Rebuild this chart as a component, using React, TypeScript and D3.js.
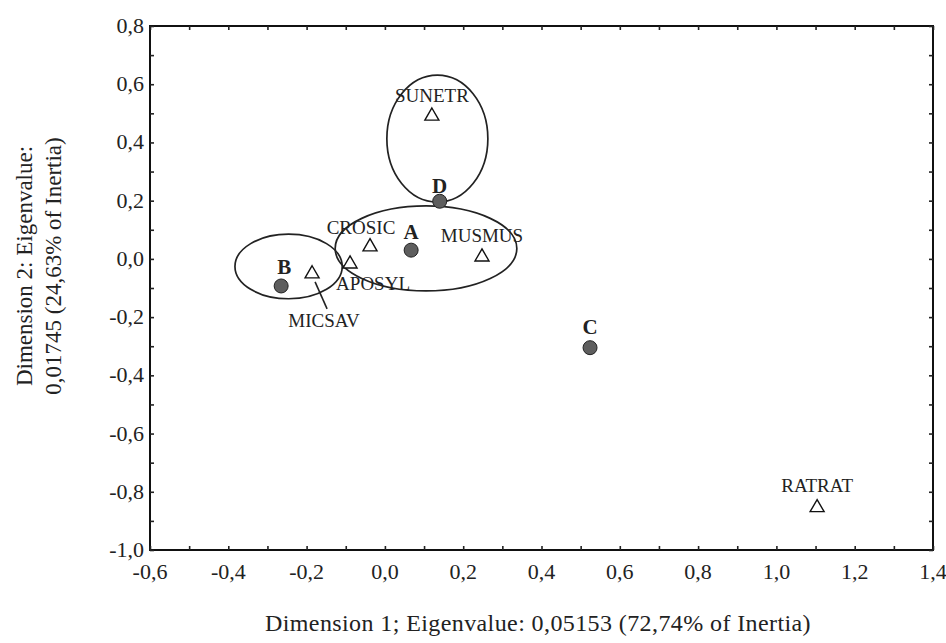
import { useRef, useEffect } from "react";
import * as d3 from "d3";

const W = 946;
const H = 643;

// row points (groups), filled circles
const groupNames = ["A", "B", "C", "D"];
const groupX = [0.067, -0.265, 0.524, 0.14];
const groupY = [0.03, -0.093, -0.305, 0.198];

// column points (species), open triangles
const speciesNames = ["SUNETR", "CROSIC", "APOSYL", "MUSMUS", "MICSAV", "RATRAT"];
const speciesX = [0.12, -0.038, -0.089, 0.248, -0.186, 1.104];
const speciesY = [0.494, 0.045, -0.014, 0.01, -0.048, -0.851];

// hand-drawn grouping ellipses: centre and radii in data units
const ellipseCx = [0.134, 0.105, -0.246];
const ellipseCy = [0.413, 0.036, -0.026];
const ellipseRx = [0.129, 0.232, 0.137];
const ellipseRy = [0.218, 0.146, 0.111];

const xTicks = [-0.6, -0.4, -0.2, 0.0, 0.2, 0.4, 0.6, 0.8, 1.0, 1.2, 1.4];
const yTicks = [0.8, 0.6, 0.4, 0.2, 0.0, -0.2, -0.4, -0.6, -0.8, -1.0];

const font = "'Liberation Serif', 'DejaVu Serif', serif";
const fmt = (v: number) => d3.format(".1f")(v).replace(".", ",").replace("−", "-");

function App() {
  const svgRef = useRef<SVGSVGElement>(null);

  useEffect(() => {
    const svg = d3.select(svgRef.current);
    svg.selectAll("*").remove();

    const x = d3.scaleLinear().domain([-0.6, 1.4]).range([150, 933]);
    const y = d3.scaleLinear().domain([-1.0, 0.8]).range([550, 26]);

    const g = svg.append("g").attr("font-family", font);

    // frame
    g.append("rect")
      .attr("x", x(-0.6))
      .attr("y", y(0.8))
      .attr("width", x(1.4) - x(-0.6))
      .attr("height", y(-1.0) - y(0.8))
      .attr("fill", "none")
      .attr("stroke", "#111")
      .attr("stroke-width", 2);

    // inward ticks on all four sides, every 0.1 (major ones a bit longer)
    const minorX = d3.range(-6, 15).map((i) => i / 10);
    const minorY = d3.range(-10, 9).map((i) => i / 10);
    const sides = [
      { ax: d3.axisBottom(x).tickValues(minorX), t: `translate(0,${y(-1.0)})` },
      { ax: d3.axisTop(x).tickValues(minorX), t: `translate(0,${y(0.8)})` },
      { ax: d3.axisLeft(y).tickValues(minorY), t: `translate(${x(-0.6)},0)` },
      { ax: d3.axisRight(y).tickValues(minorY), t: `translate(${x(1.4)},0)` },
    ];
    sides.forEach(({ ax, t }) => {
      const a = g.append("g").attr("transform", t).call(ax.tickSize(-4).tickFormat(() => ""));
      a.select(".domain").remove();
      a.selectAll("line").attr("stroke", "#222").attr("stroke-width", 1.6);
    });

    // tick labels
    g.append("g")
      .selectAll("text")
      .data(xTicks)
      .join("text")
      .attr("x", (d) => x(d))
      .attr("y", 579)
      .attr("text-anchor", "middle")
      .attr("font-size", 22)
      .attr("fill", "#222")
      .text((d) => fmt(d));

    g.append("g")
      .selectAll("text")
      .data(yTicks)
      .join("text")
      .attr("x", 144)
      .attr("y", (d) => y(d) + 7)
      .attr("text-anchor", "end")
      .attr("font-size", 22)
      .attr("fill", "#222")
      .text((d) => fmt(d));

    // axis titles
    g.append("text")
      .attr("x", 538)
      .attr("y", 631)
      .attr("text-anchor", "middle")
      .attr("font-size", 24)
      .attr("letter-spacing", 0.4)
      .attr("fill", "#222")
      .text("Dimension 1; Eigenvalue: 0,05153 (72,74% of Inertia)");

    const yt = g.append("text")
      .attr("transform", "translate(32,266) rotate(-90)")
      .attr("text-anchor", "middle")
      .attr("font-size", 23)
      .attr("fill", "#222");
    yt.append("tspan").attr("x", 0).attr("dy", 0).text("Dimension 2: Eigenvalue:");
    yt.append("tspan").attr("x", 0).attr("dy", 29).text("0,01745 (24,63% of Inertia)");

    // ellipses
    g.append("g")
      .selectAll("ellipse")
      .data(ellipseCx)
      .join("ellipse")
      .attr("cx", (d) => x(d))
      .attr("cy", (_, i) => y(ellipseCy[i]))
      .attr("rx", (_, i) => x(ellipseRx[i]) - x(0))
      .attr("ry", (_, i) => y(0) - y(ellipseRy[i]))
      .attr("fill", "none")
      .attr("stroke", "#222")
      .attr("stroke-width", 1.7);

    // leader line for MICSAV
    const mi = speciesNames.indexOf("MICSAV");
    g.append("line")
      .attr("x1", x(speciesX[mi]) + 3)
      .attr("y1", y(speciesY[mi]) + 9)
      .attr("x2", x(speciesX[mi]) + 15)
      .attr("y2", y(speciesY[mi]) + 36)
      .attr("stroke", "#222")
      .attr("stroke-width", 1.6);

    // triangles
    const tri = d3.symbol().type(d3.symbolTriangle).size(85);
    g.append("g")
      .selectAll("path")
      .data(speciesX)
      .join("path")
      .attr("transform", (d, i) => `translate(${x(d)},${y(speciesY[i]) + 1})`)
      .attr("d", tri)
      .attr("fill", "white")
      .attr("stroke", "#111")
      .attr("stroke-width", 1.4);

    // species labels: offsets relative to the point
    const labelDx = [0, -9, 23, 0, 12, 0];
    const labelDy = [-13, -12, 27, -14, 54, -15];
    g.append("g")
      .selectAll("text")
      .data(speciesNames)
      .join("text")
      .attr("x", (_, i) => x(speciesX[i]) + labelDx[i])
      .attr("y", (_, i) => y(speciesY[i]) + labelDy[i])
      .attr("text-anchor", "middle")
      .attr("font-size", 19)
      .attr("fill", "#222")
      .text((d) => d);

    // group circles
    g.append("g")
      .selectAll("circle")
      .data(groupX)
      .join("circle")
      .attr("cx", (d) => x(d))
      .attr("cy", (_, i) => y(groupY[i]))
      .attr("r", 7)
      .attr("fill", "#5e5e5e")
      .attr("stroke", "#222")
      .attr("stroke-width", 1);

    const gDx = [0, 3, 0, 0];
    const gDy = [-11, -12, -14, -8];
    g.append("g")
      .selectAll("text")
      .data(groupNames)
      .join("text")
      .attr("x", (_, i) => x(groupX[i]) + gDx[i])
      .attr("y", (_, i) => y(groupY[i]) + gDy[i])
      .attr("text-anchor", "middle")
      .attr("font-size", 21)
      .attr("font-weight", "bold")
      .attr("fill", "#222")
      .text((d) => d);
  }, []);

  return (
    <svg
      ref={svgRef}
      width={W}
      height={H}
      style={{ position: "absolute", left: 0, top: 0, display: "block", background: "white" }}
    />
  );
}

export default App;
